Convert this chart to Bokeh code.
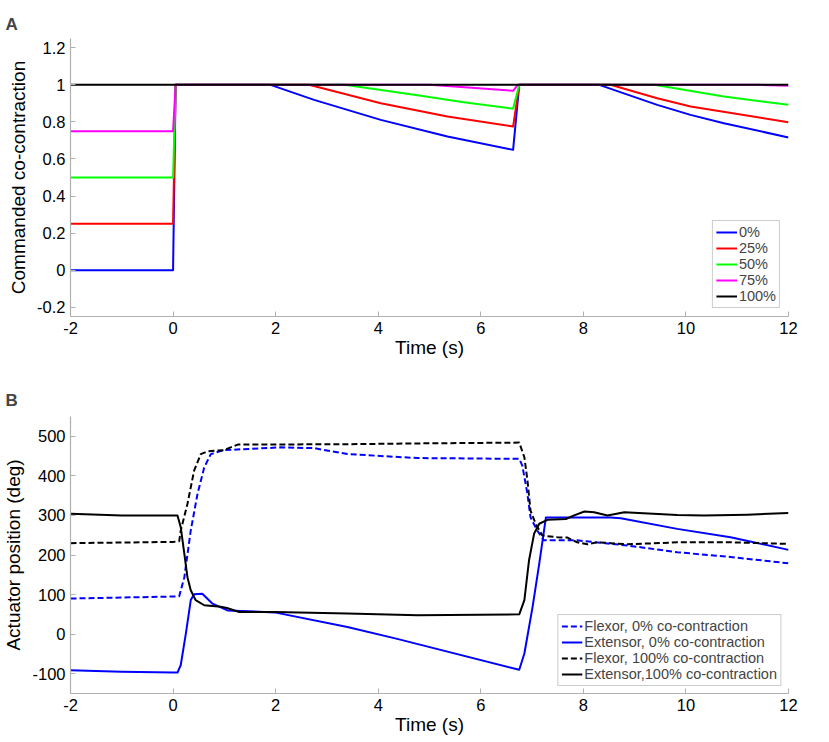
from bokeh.plotting import figure
from bokeh.layouts import column
from bokeh.models import Range1d, FixedTicker, Legend, LegendItem
from bokeh.embed import file_html
from bokeh.resources import INLINE

# ---------------- data: panel A (commanded co-contraction) ----------------
levels_a = ["0%", "25%", "50%", "75%", "100%"]
t_0 = [-2, 0, 0.05, 1.9, 2.75, 4.05, 5.35, 6.63, 6.75, 8.31, 9.44, 10.09, 10.74, 12]
c_0 = [0, 0, 1, 1, 0.919, 0.811, 0.721, 0.649, 1, 1, 0.892, 0.838, 0.793, 0.716]
t_25 = [-2, 0, 0.05, 2.65, 4.05, 5.35, 6.63, 6.75, 8.53, 9.44, 10.09, 12]
c_25 = [0.25, 0.25, 1, 1, 0.901, 0.829, 0.775, 1, 1, 0.928, 0.883, 0.798]
t_50 = [-2, 0, 0.05, 3.34, 4.70, 5.67, 6.63, 6.75, 9.38, 10.74, 12]
c_50 = [0.5, 0.5, 1, 1, 0.946, 0.906, 0.871, 1, 1, 0.937, 0.892]
t_75 = [-2, 0, 0.05, 5.0, 6.63, 6.72, 11.4, 12]
c_75 = [0.75, 0.75, 1, 1, 0.968, 1, 1, 0.995]
t_100 = [-2, 12]
c_100 = [1, 1]

x_ticks = [-2, 0, 2, 4, 6, 8, 10, 12]
x_tick_labels = ["-2", "0", "2", "4", "6", "8", "10", "12"]
y_ticks_a = [-0.2, 0.0, 0.2, 0.4, 0.6, 0.8, 1.0, 1.2]
y_tick_labels_a = ["-0.2", "0", "0.2", "0.4", "0.6", "0.8", "1", "1.2"]

# ---------------- data: panel B (actuator position) ----------------
labels_b = ["Flexor, 0% co-contraction", "Extensor, 0% co-contraction",
            "Flexor, 100% co-contraction", "Extensor,100% co-contraction"]
t_flex0 = [-2, 0, 0.12, 0.22, 0.345, 0.476, 0.607, 0.735, 0.99, 2.1, 2.75, 3.4, 4.77,
           6.75, 6.81, 6.91, 6.97, 7.10, 7.23, 7.88, 8.86, 9.83, 10.87, 12]
p_flex0 = [90, 95, 96, 144, 262, 354, 421, 455, 465, 472, 470, 455, 445,
           443, 426, 354, 295, 262, 237, 237, 224, 207, 195, 179]
t_ext0 = [-2, -1, 0, 0.086, 0.15, 0.25, 0.345, 0.41, 0.57, 0.77, 1.06, 1.98, 3.4, 4.37,
          6.75, 6.85, 7.01, 7.14, 7.27, 8.53, 8.73, 9.83, 10.87, 12]
p_ext0 = [-91, -95, -97, -97, -78, 2, 86, 101, 102, 77, 60, 55, 18, -12,
          -90, -49, 69, 178, 295, 295, 293, 266, 245, 213]
t_flex100 = [-2, 0, 0.12, 0.15, 0.28, 0.41, 0.54, 0.67, 0.99, 1.26, 3.4, 4.77,
             6.75, 6.85, 6.91, 6.97, 7.07, 7.20, 7.49, 7.69, 7.88, 8.08, 8.27, 8.53, 8.86, 9.83, 10.87, 12]
p_flex100 = [230, 233, 235, 262, 329, 413, 455, 462, 465, 479, 480, 482,
             484, 447, 388, 312, 279, 249, 245, 244, 232, 227, 232, 230, 227, 232, 232, 228]
t_ext100 = [-2, -1, 0, 0.086, 0.15, 0.22, 0.28, 0.345, 0.44, 0.607, 0.93, 1.05, 1.29, 1.98, 3.4, 4.77,
            6.75, 6.85, 6.94, 7.04, 7.14, 7.30, 7.66, 7.82, 8.02, 8.21, 8.47, 8.8, 9.83, 10.35, 11.2, 12]
p_ext100 = [304, 300, 300, 300, 270, 203, 144, 111, 86, 73, 69, 66, 56, 56, 52, 48,
            50, 86, 186, 254, 279, 289, 291, 300, 310, 308, 300, 308, 301, 300, 302, 306]
y_ticks_b = [-100, 0, 100, 200, 300, 400, 500]
y_tick_labels_b = ["-100", "0", "100", "200", "300", "400", "500"]

FONT = "Liberation Sans"
AXIS_GRAY = "#b0b0b0"


def style(p, letter, title_standoff):
    p.xgrid.visible = False
    p.ygrid.visible = False
    p.outline_line_color = None
    p.background_fill_color = "white"
    p.border_fill_color = "white"
    for ax in (p.xaxis[0], p.yaxis[0]):
        ax.axis_line_color = AXIS_GRAY
        ax.axis_line_width = 1.2
        ax.major_tick_line_color = AXIS_GRAY
        ax.major_tick_in = 5
        ax.major_tick_out = 0
        ax.minor_tick_line_color = None
        ax.major_label_text_font = FONT
        ax.major_label_text_font_size = "16.5px"
        ax.major_label_text_color = "black"
        ax.major_label_standoff = 5
        ax.axis_label_text_font = FONT
        ax.axis_label_text_font_size = "19px"
        ax.axis_label_text_font_style = "normal"
        ax.axis_label_text_color = "black"
    p.xaxis[0].axis_label_standoff = 0
    p.yaxis[0].axis_label_standoff = 5
    p.xaxis[0].ticker = FixedTicker(ticks=x_ticks)
    p.xaxis[0].major_label_overrides = {v: s for v, s in zip(x_ticks, x_tick_labels)}
    p.title.text = letter
    p.title.text_font = FONT
    p.title.text_font_size = "17px"
    p.title.text_font_style = "bold"
    p.title.align = "left"
    p.title.offset = -65
    p.title.standoff = title_standoff


# ---------------- panel A ----------------
pa = figure(frame_width=718, frame_height=278, output_backend="svg", toolbar_location=None,
            x_range=Range1d(-2, 12), y_range=Range1d(-0.25, 1.25),
            min_border_left=65, min_border_right=22, min_border_top=38, min_border_bottom=64,
            x_axis_label="Time (s)", y_axis_label="Commanded co-contraction")
style(pa, "A", 10)
pa.yaxis[0].ticker = FixedTicker(ticks=y_ticks_a)
pa.yaxis[0].major_label_overrides = {v: s for v, s in zip(y_ticks_a, y_tick_labels_a)}

colors_a = ["#0000ff", "#ff0000", "#00ff00", "#ff00ff", "#000000"]
series_a = [(t_0, c_0), (t_25, c_25), (t_50, c_50), (t_75, c_75), (t_100, c_100)]
items_a = []
for (tt, cc), col, lab in zip(series_a, colors_a, levels_a):
    r = pa.line(tt, cc, line_color=col, line_width=2, line_join="round")
    items_a.append(LegendItem(label=lab, renderers=[r]))

leg_a = Legend(items=items_a, location="bottom_right", margin=8, padding=3, spacing=0,
               glyph_width=21, glyph_height=14, label_height=14, label_standoff=2,
               label_text_font=FONT, label_text_font_size="14.5px",
               border_line_color="#999999", border_line_width=1,
               background_fill_color="white", background_fill_alpha=1)
pa.add_layout(leg_a)

# ---------------- panel B ----------------
pb = figure(frame_width=718, frame_height=277, output_backend="svg", toolbar_location=None,
            x_range=Range1d(-2, 12), y_range=Range1d(-150, 550),
            min_border_left=65, min_border_right=22, min_border_top=36, min_border_bottom=45,
            x_axis_label="Time (s)", y_axis_label="Actuator position (deg)")
style(pb, "B", 13)
pb.yaxis[0].ticker = FixedTicker(ticks=y_ticks_b)
pb.yaxis[0].major_label_overrides = {v: s for v, s in zip(y_ticks_b, y_tick_labels_b)}

series_b = [(t_flex0, p_flex0, "#0000ff", "6 3"),
            (t_ext0, p_ext0, "#0000ff", "solid"),
            (t_flex100, p_flex100, "#000000", "6 3"),
            (t_ext100, p_ext100, "#000000", "solid")]
items_b = []
for (tt, pp, col, dash), lab in zip(series_b, labels_b):
    r = pb.line(tt, pp, line_color=col, line_width=2, line_dash=dash, line_join="round")
    items_b.append(LegendItem(label=lab, renderers=[r]))

leg_b = Legend(items=items_b, location="bottom_right", margin=7, padding=3, spacing=0,
               glyph_width=21, glyph_height=14, label_height=14, label_standoff=2,
               label_text_font=FONT, label_text_font_size="14.5px",
               border_line_color="#999999", border_line_width=1,
               background_fill_color="white", background_fill_alpha=1)
pb.add_layout(leg_b)

layout = column(pa, pb, spacing=0)
open("out.html", "w").write(file_html(layout, INLINE))
